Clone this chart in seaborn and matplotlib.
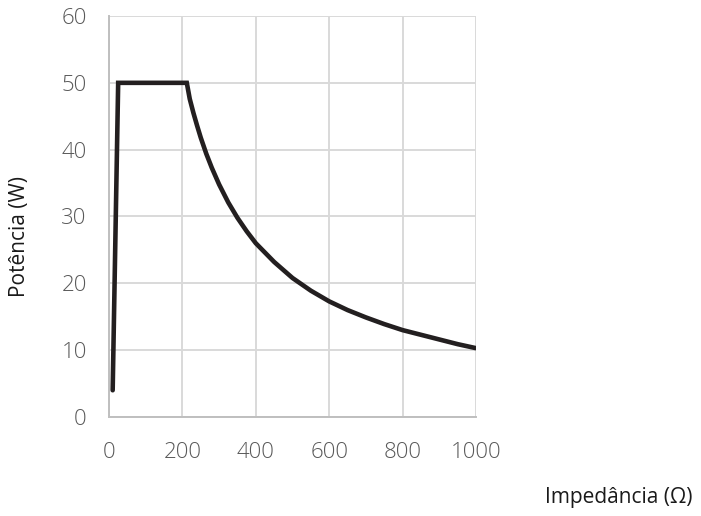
import matplotlib
matplotlib.use("Agg")
import matplotlib.pyplot as plt
import seaborn as sns
import pandas as pd

# Power delivered versus load impedance
impedancia = [10, 25, 212, 220, 230, 240, 250, 265, 280, 300, 325, 350, 375, 400, 450, 500,
              550, 600, 650, 700, 750, 800, 850, 900, 950, 1000]
potencia = [4, 50, 50, 47.6, 45.5, 43.6, 41.8, 39.4, 37.3, 34.8, 32.1, 29.8, 27.8, 26.0,
            23.2, 20.8, 18.9, 17.3, 16.0, 14.9, 13.9, 13.0, 12.3, 11.6, 10.9, 10.3]
x_ticks = [0, 200, 400, 600, 800, 1000]
y_ticks = [0, 10, 20, 30, 40, 50, 60]

df = pd.DataFrame({"Impedância (Ω)": impedancia, "Potência (W)": potencia})

sns.set_theme(style="white")
plt.rcParams["font.family"] = ["Open Sans", "DejaVu Sans"]

fig = plt.figure(figsize=(7.01, 5.16), dpi=100)
ax = fig.add_axes([109 / 701, 1 - 417 / 516, (476 - 109) / 701, (417 - 16) / 516])

sns.lineplot(data=df, x="Impedância (Ω)", y="Potência (W)", sort=False,
             color="#231f20", linewidth=3.3, ax=ax, solid_capstyle="round",
             solid_joinstyle="miter")

ax.set_xlim(0, 1000)
ax.set_ylim(0, 60)
ax.set_xticks(x_ticks)
ax.set_yticks(y_ticks)
ax.tick_params(axis="y", length=0, labelsize=16, labelcolor="#595959", pad=16)
ax.tick_params(axis="x", length=0, labelsize=16, labelcolor="#595959", pad=18)
for lbl in ax.get_xticklabels() + ax.get_yticklabels():
    lbl.set_fontweight("light")
ax.grid(True, color="#d9d9d9", linewidth=1.4)
ax.set_axisbelow(True)
for side in ["top", "right"]:
    ax.spines[side].set_visible(False)
for side in ["left", "bottom"]:
    ax.spines[side].set_color("#bfbfbf")
    ax.spines[side].set_linewidth(1.4)

ax.set_xlabel("")
ax.set_ylabel("")
fig.text(20 / 701, 1 - 237 / 516, "Potência (W)", rotation=90, ha="center", va="center",
         fontsize=15, color="#1a1a1a")
fig.text(619 / 701, 1 - 497 / 516, "Impedância (Ω)", ha="center", va="center",
         fontsize=15, color="#1a1a1a")

fig.savefig("out.png", dpi=100, facecolor="white")
